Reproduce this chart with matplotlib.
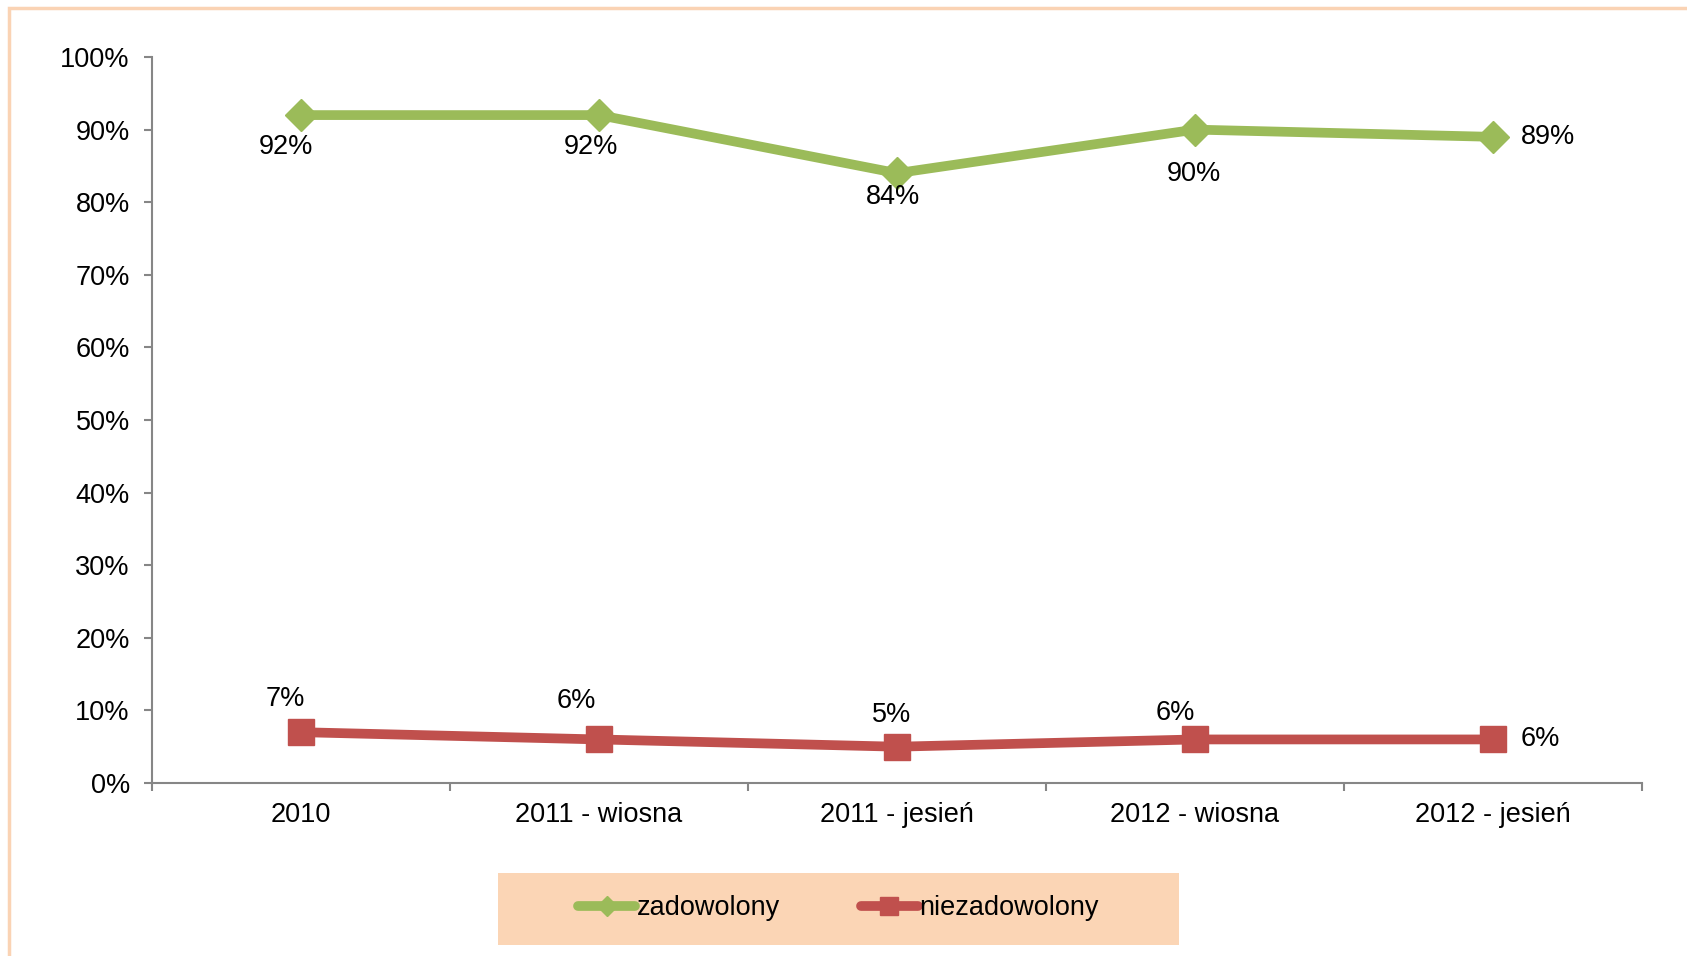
import matplotlib.pyplot as plt
from matplotlib.patches import Rectangle
from matplotlib.lines import Line2D

# Dane
kategorie = ["2010", "2011 - wiosna", "2011 - jesień", "2012 - wiosna", "2012 - jesień"]
zadowolony = [92, 92, 84, 90, 89]
niezadowolony = [7, 6, 5, 6, 6]

ZIELONY = "#9BBB59"
CZERWONY = "#C0504D"
BRZOSKWINIA = "#FBD5B5"
SZARY = "#868686"
ROZMIAR = 19.5

# przesuniecia etykiet danych (w punktach), ostatnia etykieta po prawej stronie
przes_ziel = [(-11, -23), (-6, -23), (-3, -17), (-1, -32)]
przes_czerw = [(-11, 24), (-16, 28), (-4, 23), (-14, 19)]

plt.rcParams["font.family"] = ["Liberation Sans", "DejaVu Sans"]

W, H = 1687, 956
fig = plt.figure(figsize=(W / 100, H / 100), dpi=100)

# Ramka wokol wykresu
fig.add_artist(Rectangle((9 / W, -0.05), 1.2, 1 - 8 / H + 0.05, transform=fig.transFigure,
                         fill=False, edgecolor="#FAD3B4", linewidth=2.5))

ax = fig.add_axes([152 / W, (H - 783) / H, (1642 - 152) / W, (783 - 57) / H])

x = [i + 0.5 for i in range(len(kategorie))]
ax.plot(x, zadowolony, color=ZIELONY, linewidth=7, marker="D", markersize=16,
        markerfacecolor=ZIELONY, markeredgecolor=ZIELONY, solid_capstyle="round", zorder=3)
ax.plot(x, niezadowolony, color=CZERWONY, linewidth=7, marker="s", markersize=19,
        markerfacecolor=CZERWONY, markeredgecolor=CZERWONY, solid_capstyle="round", zorder=3)

# Etykiety danych
def etykiety(wartosci, przesuniecia):
    for i, (xi, v) in enumerate(zip(x, wartosci)):
        if i < len(przesuniecia):
            ax.annotate(f"{v}%", (xi, v), xytext=przesuniecia[i], textcoords="offset points",
                        ha="center", va="center", fontsize=ROZMIAR)
        else:
            ax.annotate(f"{v}%", (xi, v), xytext=(20, 0), textcoords="offset points",
                        ha="left", va="center", fontsize=ROZMIAR)


etykiety(zadowolony, przes_ziel)
etykiety(niezadowolony, przes_czerw)

ax.set_xlim(0, len(kategorie))
ax.set_ylim(0, 100)
ax.set_yticks(range(0, 101, 10))
ax.set_yticklabels([f"{t}%" for t in range(0, 101, 10)], fontsize=ROZMIAR)

ax.set_xticks(range(len(kategorie) + 1))
ax.set_xticklabels([])
ax.set_xticks(x, minor=True)
ax.set_xticklabels(kategorie, minor=True, fontsize=ROZMIAR)
ax.tick_params(axis="x", which="minor", length=0, pad=14)
ax.tick_params(axis="x", which="major", length=6, width=1.5, color=SZARY, direction="out")
ax.tick_params(axis="y", length=6, width=1.5, color=SZARY, pad=10)

for s in ["top", "right"]:
    ax.spines[s].set_visible(False)
for s in ["left", "bottom"]:
    ax.spines[s].set_color(SZARY)
    ax.spines[s].set_linewidth(1.5)

# Legenda
fig.add_artist(Rectangle((498 / W, (H - 945) / H), (1179 - 498) / W, (945 - 873) / H,
                         transform=fig.transFigure, facecolor=BRZOSKWINIA, edgecolor="none"))
uchwyty = [
    Line2D([], [], color=ZIELONY, linewidth=7, marker="D", markersize=10, solid_capstyle="round"),
    Line2D([], [], color=CZERWONY, linewidth=7, marker="s", markersize=13, solid_capstyle="round"),
]
fig.legend(uchwyty, ["zadowolony", "niezadowolony"], loc="center",
           bbox_to_anchor=((498 + 1179) / 2 / W, (H - 908) / H), ncol=2, frameon=False,
           fontsize=ROZMIAR, handlelength=2.1, handletextpad=0.05, columnspacing=3.0)

fig.savefig("out.png", dpi=100)
